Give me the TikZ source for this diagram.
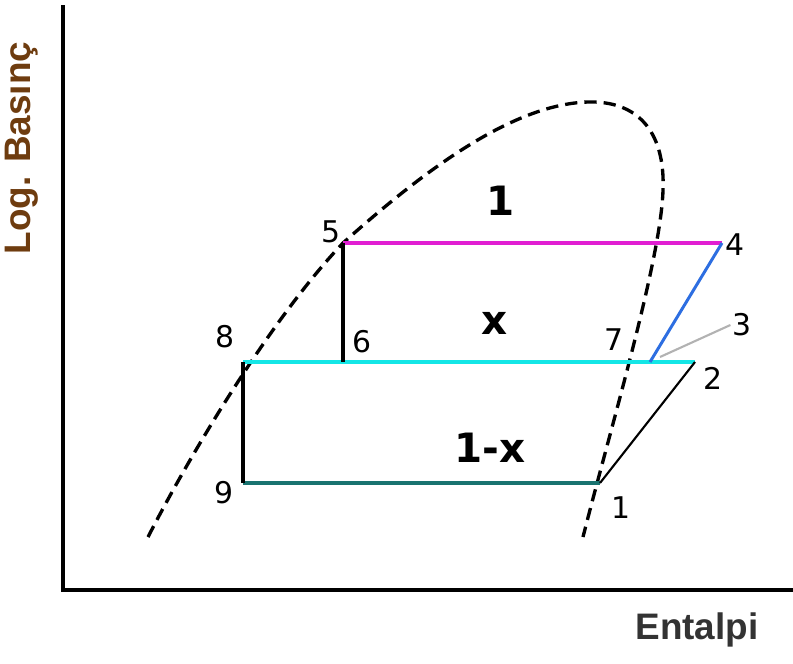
\documentclass[tikz,border=0pt]{standalone}
\usepackage{fontspec}
\setmainfont{Liberation Sans}
\newfontfamily\numfont{DejaVu Sans}
\usepackage{xcolor}
\usepackage{tikz}
\usetikzlibrary{positioning}

\definecolor{lnmag}{RGB}{225,30,210}
\definecolor{lncyan}{RGB}{20,230,230}
\definecolor{lnteal}{RGB}{25,115,112}
\definecolor{lnblue}{RGB}{45,110,225}
\definecolor{lbbrown}{RGB}{110,60,15}

\begin{document}
\begin{tikzpicture}[x=0.02cm, y=-0.02cm,
  num/.style={font=\numfont\fontsize{17}{17}\selectfont, inner sep=1pt},
  big/.style={font=\numfont\bfseries\fontsize{23}{23}\selectfont, inner sep=1pt},
  axl/.style={font=\bfseries\fontsize{21}{21}\selectfont, inner sep=0pt},
  dome/.style={line width=1.9pt, dash pattern=on 7pt off 4pt}]
\useasboundingbox (0,0) rectangle (793,663);
\coordinate (o) at (63,590); \coordinate (ytop) at (63,5); \coordinate (xend) at (793,590);
\draw[line width=2.3pt] (ytop) -- (o) -- (xend);
\node[axl, rotate=90, text=lbbrown] (ylab) at (22,148) {Log. Basınç};
\node[axl, text=black!80] (xlab) at (697,630) {Entalpi};
\coordinate (dl) at (148,537); \coordinate (dtop) at (595,102);
\coordinate (dr) at (663,190); \coordinate (de) at (583,537);
\coordinate (p1) at (600,483); \coordinate (p2) at (695,362);
\coordinate (p3) at (650,362); \coordinate (p4) at (722,243);
\coordinate (p5) at (343,243); \coordinate (p6) at (343,362);
\coordinate (p8) at (243,362); \coordinate (p9) at (243,483);
\draw[dome] (dl) .. controls (190,455) and (270,320) .. (p5)
  .. controls (430,165) and (520,100) .. (dtop)
  .. controls (645,104) and (665,140) .. (dr)
  .. controls (661,260) and (610,430) .. (de);
\draw[lnmag, line width=2.8pt] (p5) -- (p4);
\draw[lncyan, line width=2.8pt] (p8) -- (p2);
\draw[lnteal, line width=2.8pt] (p9) -- (p1);
\draw[line width=2.2pt] (p5) -- (p6);
\draw[line width=2.2pt] (p8) -- (p9);
\draw[line width=1.2pt] (p1) -- (p2);
\draw[lnblue, line width=1.7pt] (p4) -- (p3);
\node[num] (l1) at (621,508) {1};
\node[num] (l2) at (713,378) {2};
\node[num] (l3) at (742,325) {3};
\node[num] (l4) at (735,245) {4};
\node[num] (l5) at (331,232) {5};
\node[num] (l6) at (362,342) {6};
\node[num] (l7) at (614,340) {7};
\node[num] (l8) at (225,337) {8};
\node[num] (l9) at (224,493) {9};
\draw[black!30, line width=1.2pt] (660,357) -- (l3.west);
\node[big] (liq) at (501,201) {1};
\node[big] (mid) at (495,323) {x};
\node[big] (low) at (490,448) {1-x};
\end{tikzpicture}
\end{document}
